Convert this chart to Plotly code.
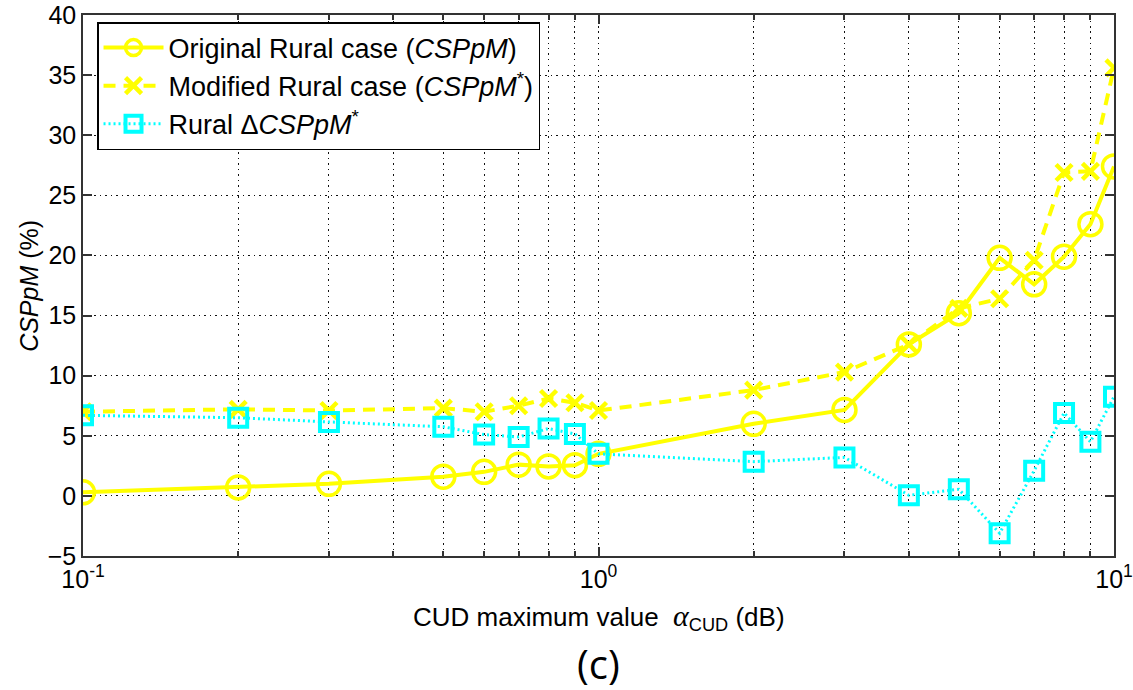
import plotly.graph_objects as go

# CUD maximum value (dB)
alpha_cud = [0.1, 0.2, 0.3, 0.5, 0.6, 0.7, 0.8, 0.9, 1, 2, 3, 4, 5, 6, 7, 8, 9, 10]

# CSPpM (%) for each scenario
original_rural = [0.3, 0.7, 1.0, 1.6, 2.0, 2.6, 2.45, 2.55, 3.5, 6.0, 7.15, 12.6, 15.2, 19.8, 17.6, 19.9, 22.6, 27.4]
modified_rural = [7.0, 7.2, 7.1, 7.3, 7.0, 7.5, 8.1, 7.75, 7.1, 8.8, 10.3, 12.6, 15.6, 16.4, 19.6, 26.9, 27.0, 35.6]
delta_rural = [6.7, 6.5, 6.15, 5.75, 5.1, 4.9, 5.6, 5.15, 3.5, 2.85, 3.2, 0.05, 0.55, -3.1, 2.1, 6.9, 4.5, 8.25]

x_tickvals = [0.1, 1, 10]
x_ticktext = ["10<sup>-1</sup>", "10<sup>0</sup>", "10<sup>1</sup>"]
y_tickvals = list(range(-5, 41, 5))

YELLOW = "#FFFF00"
CYAN = "#00FFFF"
FONT = "Liberation Sans, Arial, sans-serif"

fig = go.Figure()

fig.add_trace(go.Scatter(
    x=alpha_cud, y=original_rural, mode="lines+markers",
    name="Original Rural case (<i>CSPpM</i>)",
    line=dict(color=YELLOW, width=4, dash="solid"),
    marker=dict(symbol="circle-open", size=23, color=YELLOW, line=dict(width=3.5, color=YELLOW)),
))
fig.add_trace(go.Scatter(
    x=alpha_cud, y=modified_rural, mode="lines+markers",
    name="Modified Rural case (<i>CSPpM</i><sup>*</sup>)",
    line=dict(color=YELLOW, width=4, dash="12px,8px"),
    marker=dict(symbol="x-thin-open", size=16, color=YELLOW, line=dict(width=4.5, color=YELLOW)),
))
fig.add_trace(go.Scatter(
    x=alpha_cud, y=delta_rural, mode="lines+markers",
    name="Rural Δ<i>CSPpM</i><sup>*</sup>",
    line=dict(color=CYAN, width=3, dash="2px,3px"),
    marker=dict(symbol="square-open", size=18, color=CYAN, line=dict(width=4, color=CYAN)),
))

GRID_DASH = "1.5px,4px"

axis_common = dict(
    showline=True, linecolor="#333333", linewidth=1.5, mirror="allticks",
    ticks="inside", ticklen=9, tickcolor="#333333", tickwidth=1.5,
    showgrid=True, gridcolor="#111111", griddash=GRID_DASH, gridwidth=1.2,
    zeroline=False, automargin=False,
    tickfont=dict(family=FONT, size=25, color="#000000"),
)

fig.update_xaxes(
    type="log", range=[-1, 1],
    tickmode="array", tickvals=x_tickvals, ticktext=x_ticktext,
    minor=dict(dtick="D1", ticks="inside", ticklen=5, tickcolor="#333333",
               showgrid=True, gridcolor="#111111", griddash=GRID_DASH, gridwidth=1.2),
    **axis_common,
)
fig.update_yaxes(
    range=[-5, 40], tickmode="array", tickvals=y_tickvals,
    **axis_common,
)

fig.update_layout(
    width=1133, height=690,
    margin=dict(l=83, r=19, t=15, b=134, autoexpand=False),
    paper_bgcolor="white", plot_bgcolor="white",
    font=dict(family=FONT, color="#000000"),
    showlegend=True,
    legend=dict(
        x=0.0136, y=0.987, xanchor="left", yanchor="top",
        bgcolor="white", bordercolor="#000000", borderwidth=1.5,
        font=dict(family=FONT, size=27, color="#000000"),
        itemwidth=60, tracegroupgap=0,
    ),
    annotations=[
        dict(text="<i>CSPpM</i> (%)", textangle=-90, x=-0.053, y=0.5,
             xref="paper", yref="paper", xanchor="center", yanchor="middle",
             showarrow=False, font=dict(family=FONT, size=25, color="#000000")),
        dict(text="CUD maximum value  <span style='font-family:Liberation Serif;font-size:30px'><i>α</i></span><sub>CUD</sub> (dB)",
             x=0.5, y=-0.113, xref="paper", yref="paper",
             xanchor="center", yanchor="middle", showarrow=False,
             font=dict(family=FONT, size=26, color="#000000")),
        dict(text="(c)", x=0.5, y=-0.198, xref="paper", yref="paper",
             xanchor="center", yanchor="middle", showarrow=False,
             font=dict(family="Open Sans, sans-serif", size=40, color="#000000")),
    ],
)

fig.write_html("out.html")
